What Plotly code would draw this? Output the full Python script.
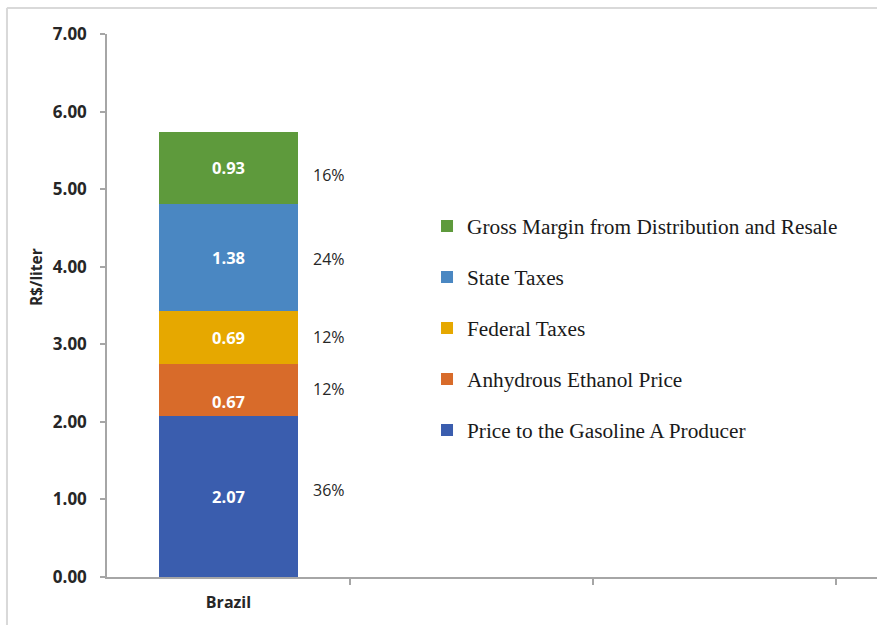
import plotly.graph_objects as go

# Gasoline price composition in Brazil (R$/liter), stacked from the bottom up
country = "Brazil"
components = [
    "Price to the Gasoline A Producer",
    "Anhydrous Ethanol Price",
    "Federal Taxes",
    "State Taxes",
    "Gross Margin from Distribution and Resale",
]
values = [2.07, 0.67, 0.69, 1.38, 0.93]
colors = ["#3A5DAE", "#D86B2A", "#E6A800", "#4A87C2", "#5E9A3C"]
y_ticks = [0, 1, 2, 3, 4, 5, 6, 7]

# small vertical nudges for the in-bar and side labels (pixels)
value_label_shift = [0, -11, 0, 0, 0]
pct_label_shift = [7, 1, 1, -2, -7]

SANS = "Open Sans"
SERIF = "Liberation Serif"

fig = go.Figure()
n = len(components)
for i, (name, v, c) in enumerate(zip(components, values, colors)):
    fig.add_trace(go.Bar(
        x=[0], y=[v], name=name, legendgroup=name,
        legendrank=n - i,  # top segment listed first
        marker=dict(color=c, line=dict(width=0)),
        width=0.568,
        hoverinfo="name+y",
    ))

total = sum(values)
annotations = []
base = 0.0
for v, vs, ps in zip(values, value_label_shift, pct_label_shift):
    mid = base + v / 2
    annotations.append(dict(
        x=0, y=mid, xref="x", yref="y", text=f"{v:.2f}", showarrow=False,
        font=dict(family=SANS, size=16.5, color="white", weight="bold"),
        yshift=vs,
    ))
    annotations.append(dict(
        x=0.34, y=mid, xref="x", yref="y", text=f"{round(v / total * 100):.0f}%",
        showarrow=False, xanchor="left",
        font=dict(family=SANS, size=16, color="#262626"),
        yshift=ps,
    ))
    base += v

annotations.append(dict(
    x=-0.093, y=0.553, xref="paper", yref="paper", text="R$/liter",
    textangle=-90, showarrow=False, xanchor="center", yanchor="middle",
    font=dict(family=SANS, size=15.5, color="#262626", weight="bold"),
))

fig.update_layout(
    width=877, height=625,
    margin=dict(l=107, r=0, t=34, b=48),
    paper_bgcolor="white", plot_bgcolor="white",
    barmode="stack",
    showlegend=True,
    legend=dict(
        x=0.4156, y=0.684, xanchor="left", yanchor="top",
        traceorder="grouped", tracegroupgap=20.3,
        font=dict(family=SERIF, size=21.3, color="#1a1a1a"),
        bgcolor="rgba(0,0,0,0)", borderwidth=0,
    ),
    xaxis=dict(
        range=[-0.5, 2.669],
        tickvals=[0], ticktext=[country], ticks="", ticklen=0,
        tickfont=dict(family=SANS, size=16, color="#262626", weight="bold"),
        ticklabelstandoff=10,
        showline=True, linecolor="#A6A6A6", linewidth=1.5,
        showgrid=False, zeroline=False,
        minor=dict(tickvals=[0.5, 1.5, 2.5], ticks="outside", ticklen=6,
                   tickcolor="#A6A6A6", tickwidth=1.5, showgrid=False),
        fixedrange=True,
    ),
    yaxis=dict(
        range=[0, 7], tickvals=y_ticks, tickformat=".2f",
        ticks="outside", ticklen=5, tickcolor="#A6A6A6", tickwidth=1.5,
        tickfont=dict(family=SANS, size=17, color="#262626", weight="bold"),
        ticklabelstandoff=10,
        showline=True, linecolor="#A6A6A6", linewidth=1.5,
        showgrid=False, zeroline=False,
        fixedrange=True,
    ),
    annotations=annotations,
    shapes=[
        # outer frame lines along the top and left edges
        dict(type="line", xref="paper", yref="paper",
             x0=-0.13, x1=1.01, y0=1.0479, y1=1.0479,
             line=dict(color="#D9D9D9", width=2)),
        dict(type="line", xref="paper", yref="paper",
             x0=-0.1299, x1=-0.1299, y0=1.0479, y1=-0.1,
             line=dict(color="#D9D9D9", width=2)),
    ],
)

fig.write_html("out.html")
